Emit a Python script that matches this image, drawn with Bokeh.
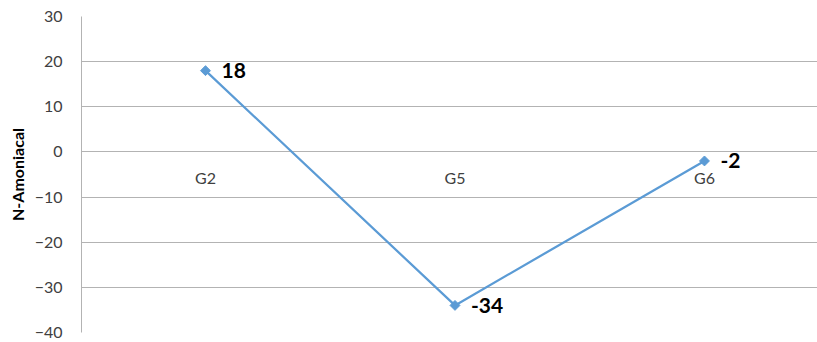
import math
from bokeh.plotting import figure
from bokeh.models import Range1d, ColumnDataSource, FixedTicker, LabelSet
from bokeh.core.properties import value
from bokeh.embed import file_html
from bokeh.resources import INLINE

# Data
categories = ["G2", "G5", "G6"]
n_amoniacal = [18, -34, -2]
y_ticks = [-40, -30, -20, -10, 0, 10, 20, 30]

FONT = "Lato"
positions = list(range(len(categories)))

src = ColumnDataSource(dict(
    x=positions,
    y=n_amoniacal,
    lab=[str(v) for v in n_amoniacal],
    cat=categories,
    zero=[0] * len(categories),
))

p = figure(
    width=817, height=342,
    x_range=Range1d(-0.497, 2.453),
    y_range=Range1d(-40, 30),
    output_backend="svg", toolbar_location=None,
    min_border_left=81, min_border_right=0,
    min_border_top=16, min_border_bottom=10,
)
p.outline_line_color = None
p.background_fill_color = "white"
p.border_fill_color = "white"

# x axis hidden: category labels sit next to the zero line
p.xaxis.visible = False
p.xgrid.grid_line_color = None

# y axis
p.yaxis.ticker = FixedTicker(ticks=y_ticks)
p.yaxis.axis_line_color = "#b3b3b3"
p.yaxis.major_tick_line_color = None
p.yaxis.minor_tick_line_color = None
p.yaxis.major_label_text_font = FONT
p.yaxis.major_label_text_font_size = "16px"
p.yaxis.major_label_text_color = "#404040"
p.yaxis.major_label_standoff = 13
p.yaxis.axis_label = "N-Amoniacal"
p.yaxis.axis_label_text_font = FONT
p.yaxis.axis_label_text_font_style = "bold"
p.yaxis.axis_label_text_font_size = "16px"
p.yaxis.axis_label_text_color = "#000000"
p.yaxis.axis_label_standoff = 5
p.ygrid.ticker = FixedTicker(ticks=y_ticks)
p.ygrid.grid_line_color = "#b3b3b3"
p.ygrid.grid_line_width = 1

# series
p.line("x", "y", source=src, line_color="#5b9bd5", line_width=2.25)
p.scatter("x", "y", source=src, marker="square", angle=math.pi / 4, size=7,
          fill_color="#5b9bd5", line_color="#5b9bd5")

# value labels
p.add_layout(LabelSet(x="x", y="y", text="lab", source=src,
                      x_offset=16, y_offset=0,
                      text_align="left", text_baseline="middle",
                      text_font=value(FONT), text_font_style="bold",
                      text_font_size="21px", text_color="#000000"))

# category labels next to the zero line
p.add_layout(LabelSet(x="x", y="zero", text="cat", source=src,
                      y_offset=-26, text_align="center",
                      text_baseline="middle",
                      text_font=value(FONT), text_font_size="16px",
                      text_color="#404040"))

open("out.html", "w").write(file_html(p, INLINE))
